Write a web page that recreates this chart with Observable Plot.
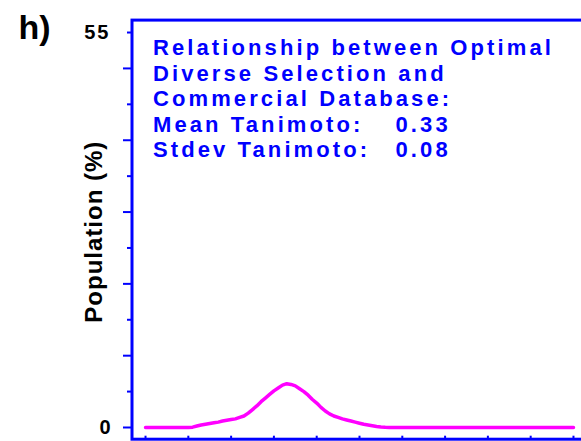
<!DOCTYPE html>
<html>
<head>
<meta charset="utf-8">
<script src="https://cdn.jsdelivr.net/npm/d3@7"></script>
<script src="https://cdn.jsdelivr.net/npm/@observablehq/plot@0.6"></script>
<style>
  html, body { margin: 0; padding: 0; background: white; overflow: hidden; }
  #chart svg { display: block; overflow: hidden; }
</style>
</head>
<body>
<div id="chart"></div>
<script>
// Tanimoto similarity bins (width 0.01) and the share of the population in each, in %
const tanimoto = d3.range(0, 101).map(i => i / 100);
const population = [
  0, 0, 0, 0, 0, 0, 0, 0, 0, 0,
  0, 0.05, 0.2, 0.35, 0.45, 0.55, 0.65, 0.75, 0.9, 1.0,
  1.1, 1.2, 1.4, 1.6, 2.0, 2.5, 3.0, 3.6, 4.1, 4.6,
  5.1, 5.5, 5.9, 6.1, 6.0, 5.8, 5.4, 5.0, 4.5, 3.9,
  3.4, 2.8, 2.3, 1.9, 1.6, 1.4, 1.2, 1.05, 0.9, 0.75,
  0.6, 0.45, 0.35, 0.25, 0.15, 0.08, 0.03, 0, 0, 0,
  0, 0, 0, 0, 0, 0, 0, 0, 0, 0,
  0, 0, 0, 0, 0, 0, 0, 0, 0, 0,
  0, 0, 0, 0, 0, 0, 0, 0, 0, 0,
  0, 0, 0, 0, 0, 0, 0, 0, 0, 0,
  0
];

// Axis ticks and labels
const xTicks = d3.range(0, 11).map(i => i / 10);
const yMajorTicks = [0, 10, 20, 30, 40, 50];
const yMinorTicks = [5, 15, 25, 35, 45, 55];
const yTickLabels = [0, 55];

// Annotation text
const panelLabel = "h)";
const yLabel = "Population (%)";
const titleLines = ["Relationship between Optimal", "Diverse Selection and", "Commercial Database:"];
const statLabels = ["Mean Tanimoto:", "Stdev Tanimoto:"];
const statValues = [0.33, 0.08];

const data = tanimoto.map((t, i) => ({t, p: population[i]}));
const statText = statValues.map(v => v.toFixed(2));

const blue = "#0000ff";
const lineEm = 1.16;

const chart = Plot.plot({
  width: 581,
  height: 441,
  marginLeft: 131.5,
  marginRight: -5.5,
  marginTop: 19.6,
  marginBottom: 2.3,
  x: {domain: [-0.0316, 1.0316], label: null},
  y: {domain: [-1.63, 56.73], label: null},
  style: {fontFamily: "'Liberation Sans', Arial, sans-serif", background: "white"},
  marks: [
    Plot.frame({stroke: blue, strokeWidth: 3}),
    Plot.axisY({ticks: yMajorTicks, tickSize: 8.5, text: null, label: null, stroke: blue, strokeWidth: 2}),
    Plot.axisY({ticks: yMinorTicks, tickSize: 4.5, text: null, label: null, stroke: blue, strokeWidth: 2}),
    Plot.axisY({ticks: yTickLabels, tickSize: 0, tickPadding: 21.5, tickFormat: d => String(d), label: null,
      fontSize: 20, fontWeight: "bold", fill: "black"}),
    Plot.axisX({ticks: xTicks, tickSize: 4, dy: -3, text: null, label: null, stroke: blue, strokeWidth: 2}),
    Plot.line(data, {x: "t", y: "p", stroke: "#ff00ff", strokeWidth: 3.5}),
    Plot.text([titleLines.concat(statLabels).join("\n")], {
      text: d => d, frameAnchor: "top-left", dx: 21, dy: 17, lineAnchor: "top", textAnchor: "start",
      fontSize: 22, fontWeight: "bold", fill: blue, lineHeight: lineEm
    }),
    Plot.text([statText.join("\n")], {
      text: d => d, frameAnchor: "top-left", dx: 263.5, dy: 17 + titleLines.length * 22 * lineEm,
      lineAnchor: "top", textAnchor: "start",
      fontSize: 22, fontWeight: "bold", fill: blue, lineHeight: lineEm
    }),
    Plot.text([yLabel], {
      text: d => d, frameAnchor: "left", rotate: -90, dx: -30, dy: 2,
      textAnchor: "middle", lineAnchor: "bottom",
      fontSize: 24, fontWeight: "bold", fill: "black"
    }),
    Plot.text([panelLabel], {
      text: d => d, frameAnchor: "top-left", dx: -113.5, dy: 19,
      textAnchor: "start", lineAnchor: "bottom",
      fontSize: 34, fontWeight: "bold", fill: "black"
    })
  ]
});

document.getElementById("chart").append(chart);

// Widen the tracking of the annotation lettering.
function track(el, px) {
  const before = el.getComputedTextLength();
  el.style.letterSpacing = px + "px";
  const after = el.getComputedTextLength();
  const n = el.textContent.length;
  if (Math.abs(after - before) < 0.5 && n > 1) {
    el.style.letterSpacing = "";
    el.setAttribute("textLength", before + px * (n - 1));
    el.setAttribute("lengthAdjust", "spacing");
  }
}
const spaced = new Set([...titleLines, ...statLabels, ...statText]);
chart.querySelectorAll("tspan, text").forEach(el => {
  if (el.querySelector && el.querySelector("tspan")) return;
  const s = el.textContent;
  if (spaced.has(s)) track(el, 3.1);
  else if (s === yLabel) track(el, 1);
  else if (s === "55") track(el, 2);
});
</script>
</body>
</html>
